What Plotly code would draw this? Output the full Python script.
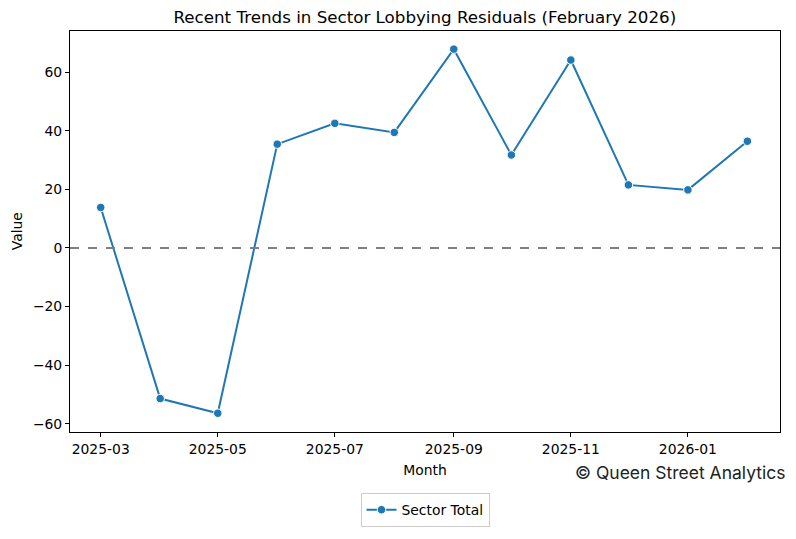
import plotly.graph_objects as go

# monthly sector residuals
months = ["2025-03-01", "2025-04-01", "2025-05-01", "2025-06-01", "2025-07-01", "2025-08-01",
          "2025-09-01", "2025-10-01", "2025-11-01", "2025-12-01", "2026-01-01", "2026-02-01"]
sector_total = [13.8, -51.4, -56.4, 35.4, 42.5, 39.4, 67.8, 31.7, 64.1, 21.5, 19.8, 36.4]

fig = go.Figure()

fig.add_trace(go.Scatter(
    x=months, y=sector_total, mode="lines+markers", name="Sector Total",
    line=dict(color="#1f77b4", width=2),
    marker=dict(size=8.5, color="#1f77b4", line=dict(color="white", width=1)),
))

# zero reference line
fig.add_hline(y=0, line=dict(color="gray", width=2, dash="dash"))

axis_style = dict(
    showline=True, linecolor="black", linewidth=1, mirror=True,
    ticks="outside", ticklen=4, tickcolor="black", showgrid=False, zeroline=False,
    tickfont=dict(size=13.9, color="black"),
)

# page body has an 8px margin, so the figure is a bit smaller than the window
fig.update_layout(
    width=788, height=531,
    margin=dict(l=62, r=16, t=23, b=102),
    paper_bgcolor="white", plot_bgcolor="white",
    font=dict(family="DejaVu Sans", color="black"),
    title=dict(text="Recent Trends in Sector Lobbying Residuals (February 2026)",
               x=0.529, xanchor="center", y=0.983, yanchor="middle", font=dict(size=16.7)),
    xaxis=dict(axis_style, type="date", range=["2025-02-13", "2026-02-18"],
               tick0="2025-03-01", dtick="M2", tickformat="%Y-%m",
               title=dict(text="Month", font=dict(size=13.9), standoff=9)),
    yaxis=dict(axis_style, range=[-62.8, 74.0], tick0=0, dtick=20),
    legend=dict(x=0.5, xanchor="center", y=-0.195, yanchor="middle", orientation="h",
                bordercolor="#cccccc", borderwidth=1, bgcolor="white", font=dict(size=13.9)),
    showlegend=True,
)

# y label placed by hand so it sits where matplotlib put it
fig.add_annotation(text="Value", xref="paper", yref="paper", x=-0.075, y=0.5,
                   xanchor="center", yanchor="middle", textangle=-90, showarrow=False,
                   font=dict(size=13.9))

fig.add_annotation(text="© Queen Street Analytics", xref="paper", yref="paper",
                   x=1.01, y=-0.1, xanchor="right", yanchor="middle", showarrow=False,
                   font=dict(family="Inter", size=17.5, color="#222222"))

fig.write_html("out.html")
